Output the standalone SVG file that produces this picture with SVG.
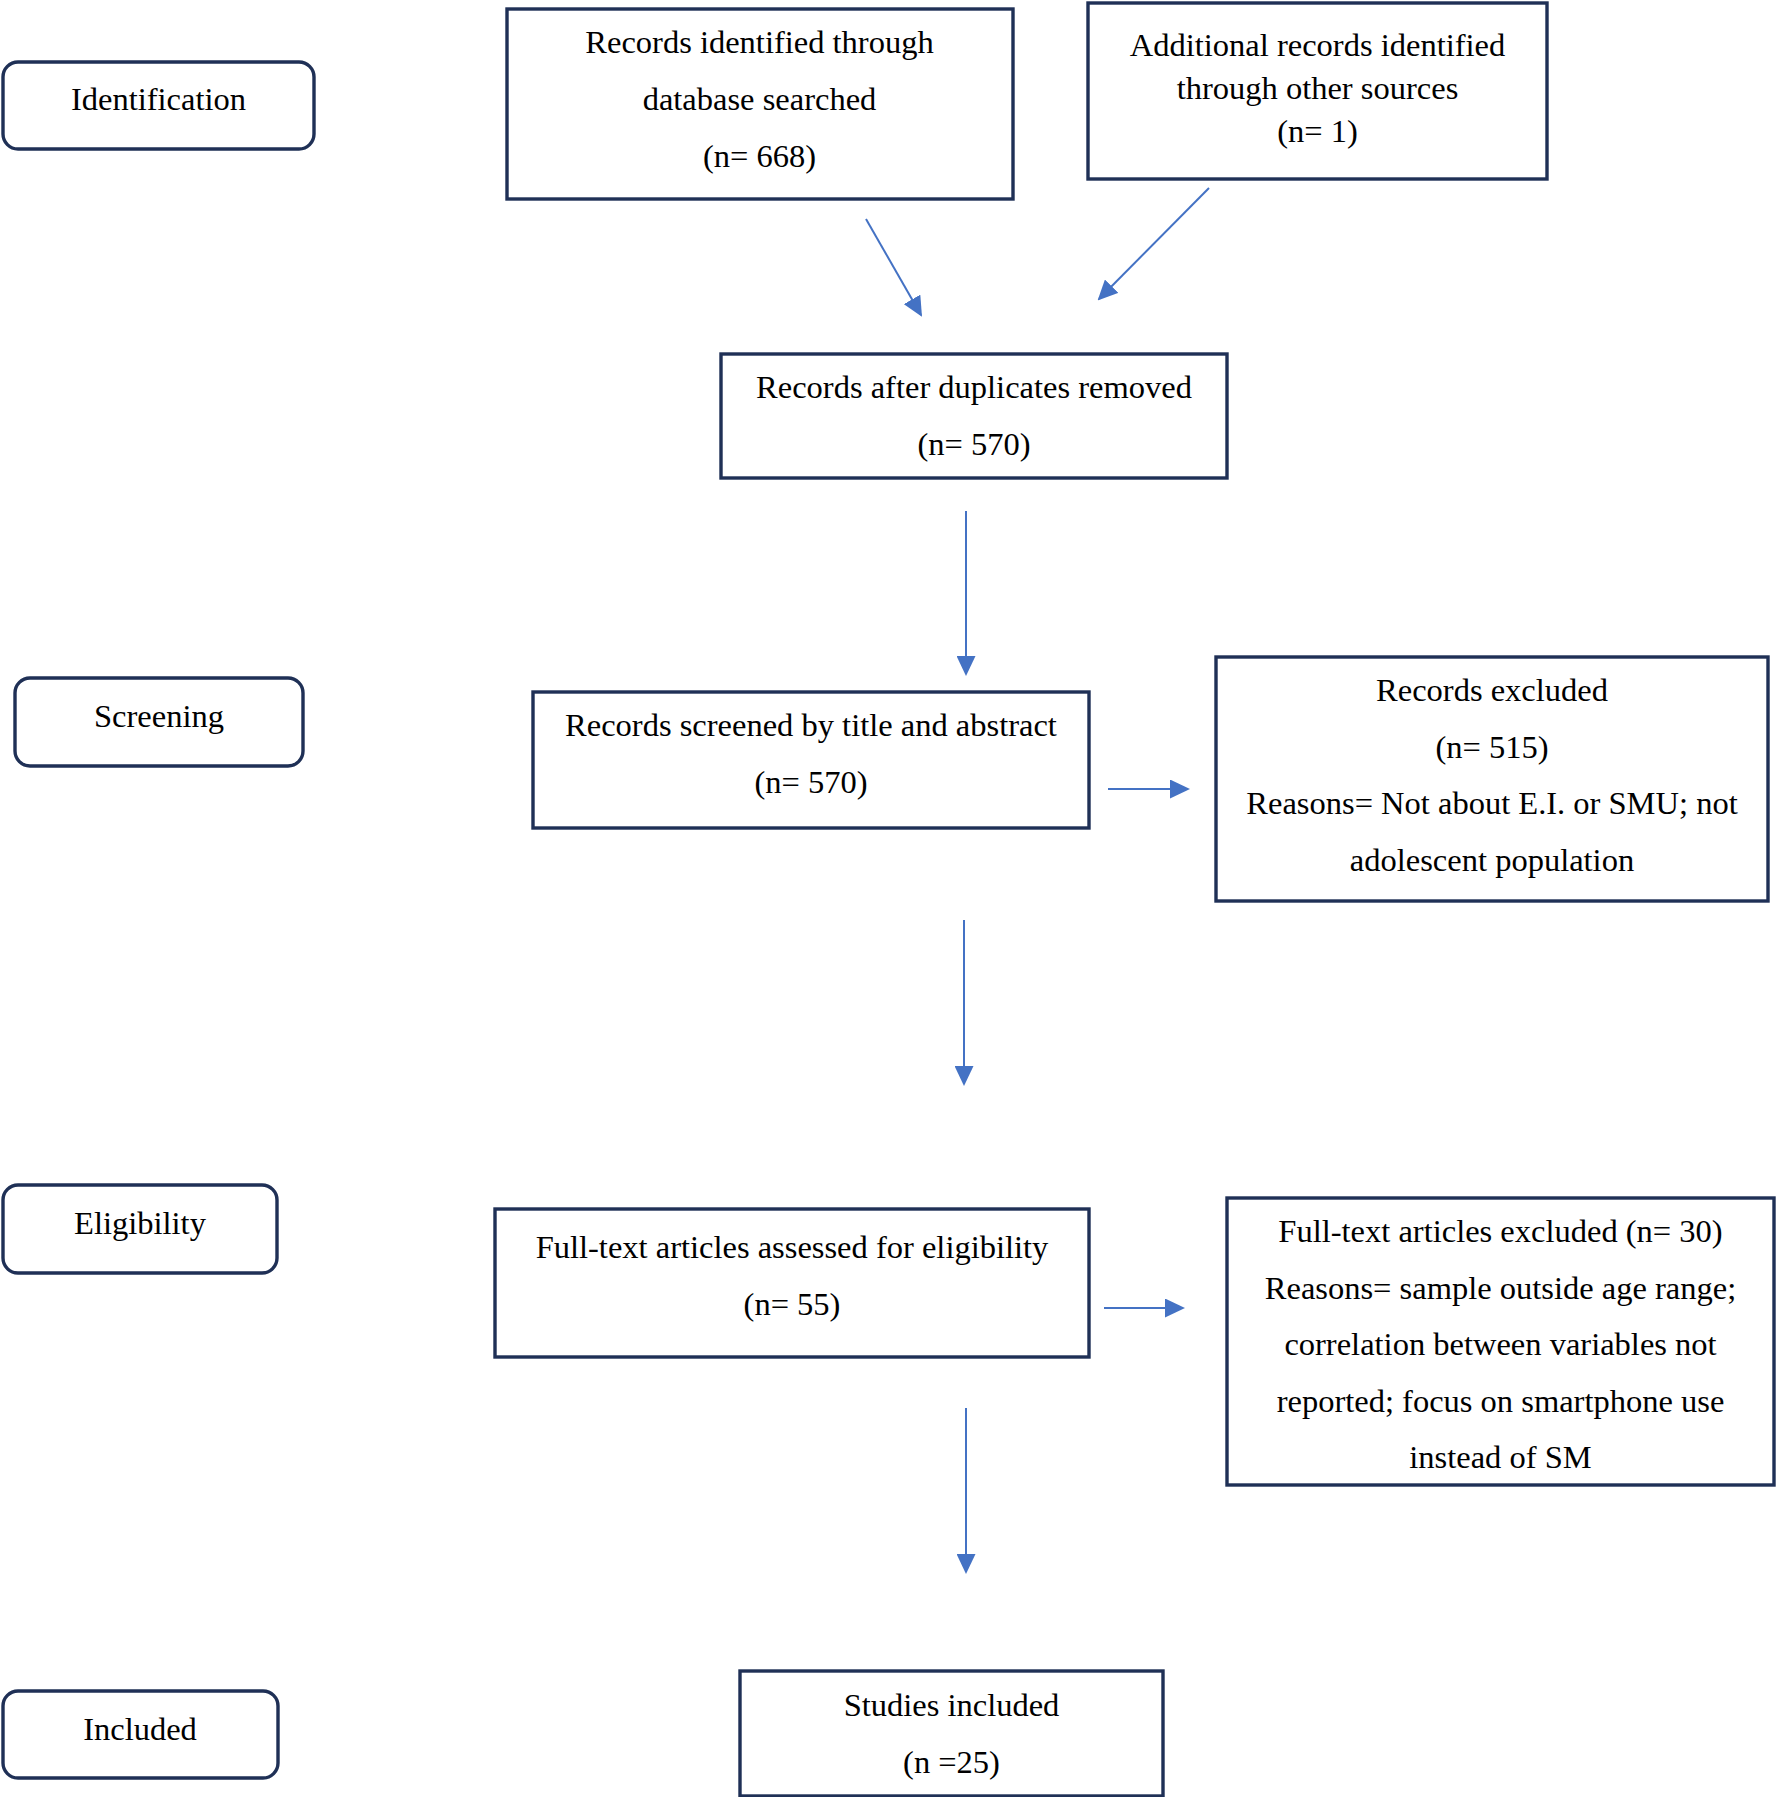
<svg xmlns="http://www.w3.org/2000/svg" width="1776" height="1797" viewBox="0 0 1776 1797">
<style>
.box{fill:#ffffff;stroke:#1f3056;stroke-width:3.4}
.t{font-family:"Liberation Serif","Times New Roman",serif;font-size:32.5px;fill:#000000;text-anchor:middle}
.c{stroke:#4472c4;stroke-width:2;fill:none;marker-end:url(#ah)}
</style>
<defs>
<marker id="ah" markerUnits="userSpaceOnUse" markerWidth="20" markerHeight="19" viewBox="0 0 20 19" refX="18" refY="9.5" orient="auto">
<path d="M0,0 L20,9.5 L0,19 z" fill="#4472c4"/>
</marker>
</defs>
<rect width="1776" height="1797" fill="#ffffff"/>
<g id="connectors">
<line class="c" x1="866" y1="219" x2="921" y2="315"/>
<line class="c" x1="1209" y1="188" x2="1099" y2="299"/>
<line class="c" x1="966" y1="511" x2="966" y2="674"/>
<line class="c" x1="1108" y1="789" x2="1188" y2="789"/>
<line class="c" x1="964" y1="920" x2="964" y2="1084"/>
<line class="c" x1="1104" y1="1308" x2="1183" y2="1308"/>
<line class="c" x1="966" y1="1408" x2="966" y2="1572"/>
</g>
<g id="identification">
<rect class="box" x="3" y="62" width="311" height="87" rx="15" ry="15"/>
<text class="t" x="158.5" y="110">Identification</text>
</g>
<g id="records-identified">
<rect class="box" x="507" y="9" width="506" height="190"/>
<text class="t" x="759.5" y="53">Records identified through</text>
<text class="t" x="759.5" y="110">database searched</text>
<text class="t" x="759.5" y="167">(n= 668)</text>
</g>
<g id="additional-records">
<rect class="box" x="1088" y="3" width="459" height="176"/>
<text class="t" x="1317.5" y="56">Additional records identified</text>
<text class="t" x="1317.5" y="99">through other sources</text>
<text class="t" x="1317.5" y="142">(n= 1)</text>
</g>
<g id="duplicates-removed">
<rect class="box" x="721" y="354" width="506" height="124"/>
<text class="t" x="974" y="398">Records after duplicates removed</text>
<text class="t" x="974" y="455">(n= 570)</text>
</g>
<g id="screening">
<rect class="box" x="15" y="678" width="288" height="88" rx="15" ry="15"/>
<text class="t" x="159" y="727">Screening</text>
</g>
<g id="records-screened">
<rect class="box" x="533" y="692" width="556" height="136"/>
<text class="t" x="811" y="736">Records screened by title and abstract</text>
<text class="t" x="811" y="793">(n= 570)</text>
</g>
<g id="records-excluded">
<rect class="box" x="1216" y="657" width="552" height="244"/>
<text class="t" x="1492" y="701">Records excluded</text>
<text class="t" x="1492" y="758">(n= 515)</text>
<text class="t" x="1492" y="814">Reasons= Not about E.I. or SMU; not</text>
<text class="t" x="1492" y="871">adolescent population</text>
</g>
<g id="eligibility">
<rect class="box" x="3" y="1185" width="274" height="88" rx="15" ry="15"/>
<text class="t" x="140" y="1234">Eligibility</text>
</g>
<g id="full-text-assessed">
<rect class="box" x="495" y="1209" width="594" height="148"/>
<text class="t" x="792" y="1258">Full-text articles assessed for eligibility</text>
<text class="t" x="792" y="1315">(n= 55)</text>
</g>
<g id="full-text-excluded">
<rect class="box" x="1227" y="1198" width="547" height="287"/>
<text class="t" x="1500.5" y="1242">Full-text articles excluded (n= 30)</text>
<text class="t" x="1500.5" y="1299">Reasons= sample outside age range;</text>
<text class="t" x="1500.5" y="1355">correlation between variables not</text>
<text class="t" x="1500.5" y="1412">reported; focus on smartphone use</text>
<text class="t" x="1500.5" y="1468">instead of SM</text>
</g>
<g id="included">
<rect class="box" x="3" y="1691" width="275" height="87" rx="15" ry="15"/>
<text class="t" x="140" y="1740">Included</text>
</g>
<g id="studies-included">
<rect class="box" x="740" y="1671" width="423" height="125"/>
<text class="t" x="951.5" y="1716">Studies included</text>
<text class="t" x="951.5" y="1773">(n =25)</text>
</g>
</svg>
